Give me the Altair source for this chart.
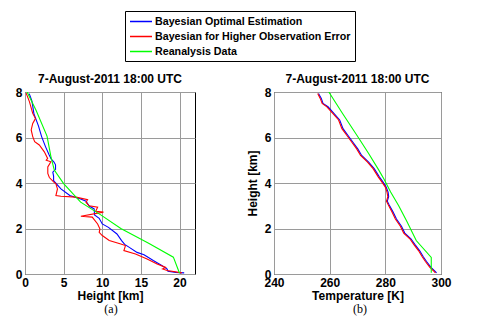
import altair as alt
import pandas as pd

series_names = ["Bayesian Optimal Estimation", "Bayesian for Higher Observation Error", "Reanalysis Data"]
series_colors = ["#0000ff", "#ff0000", "#00ff00"]
title_text = "7-August-2011 18:00 UTC"

# ---- panel (a) ----
a_blue_h = [7.93, 7.6, 7.05, 6.5, 6.04, 5.6, 5.25, 5.05, 4.92, 4.8, 4.6, 4.48, 4.3, 4.1, 3.74, 3.45, 3.3, 3.2,
            2.99, 2.86, 2.6, 2.45, 2.2, 2.05, 1.76, 1.47, 1.3, 1.17, 0.95, 0.85, 0.59, 0.37, 0.22, 0.12, 0.07, 0.05]
a_blue_v = [0.55, 0.9, 1.15, 1.75, 2.15, 2.65, 3.1, 3.4, 3.75, 3.95, 3.95, 3.6, 3.7, 3.7, 4.65, 5.8, 7.2, 7.9,
            8.3, 8.95, 9.0, 9.6, 10.0, 10.8, 11.9, 12.5, 12.9, 13.5, 14.5, 15.4, 16.6, 17.7, 18.4, 18.5, 19.5, 20.6]
a_red_h = [7.95, 7.58, 7.06, 6.83, 6.62, 6.33, 6.04, 5.82, 5.67, 5.37, 5.08, 5.0, 4.93, 4.71, 4.42, 4.24, 4.05,
           3.96, 3.74, 3.45, 3.42, 3.38, 3.27, 3.15, 3.0, 2.94, 2.76, 2.72, 2.54, 2.5, 2.2, 1.98, 1.83, 1.69,
           1.47, 1.32, 1.25, 1.03, 0.88, 0.66, 0.44, 0.29, 0.22, 0.15, 0.07, 0.05]
a_red_v = [0.15, 0.57, 1.0, 1.35, 1.0, 0.8, 1.0, 1.25, 1.85, 2.5, 2.93, 2.75, 3.35, 2.95, 2.95, 3.15, 3.7,
           4.0, 4.2, 4.0, 4.65, 6.6, 8.1, 7.9, 8.3, 9.4, 9.15, 10.15, 7.23, 8.7, 9.4, 9.7, 9.6, 10.0,
           10.9, 12.4, 13.0, 12.8, 14.3, 15.8, 17.1, 18.2, 17.8, 18.4, 19.9, 20.3]
a_green_h = [8.0, 7.2, 6.06, 5.15, 4.57, 3.97, 3.16, 2.6, 2.0, 1.35, 0.74, 0.03]
a_green_v = [0.27, 1.43, 2.85, 3.36, 3.79, 5.0, 7.2, 9.8, 12.4, 16.0, 19.2, 20.0]

# ---- panel (b) ----
b_blue_h = [7.93, 7.72, 7.5, 7.35, 7.05, 6.77, 6.39, 6.09, 5.8, 5.5, 5.21, 4.92, 4.63, 4.26, 4.04, 3.82, 3.6,
            3.4, 3.2, 3.05, 2.72, 2.42, 2.1, 1.8, 1.55, 1.3, 1.03, 0.75, 0.55, 0.29, 0.12, 0.05]
b_blue_t = [256.0, 257.0, 257.6, 259.4, 261.6, 263.6, 264.8, 266.6, 268.3, 270.1, 271.5, 274.0, 276.0, 277.9,
            279.2, 280.3, 281.0, 281.2, 280.7, 281.3, 282.8, 284.0, 285.8, 287.0, 289.2, 290.6, 292.3, 293.7,
            294.8, 296.4, 297.9, 298.4]
b_red_h = [7.93, 7.72, 7.5, 7.35, 7.05, 6.77, 6.39, 6.09, 5.8, 5.5, 5.21, 4.92, 4.63, 4.26, 4.04, 3.82, 3.6,
           3.4, 3.2, 3.05, 2.72, 2.42, 2.1, 1.8, 1.55, 1.3, 1.03, 0.75, 0.55, 0.29, 0.12, 0.05]
b_red_t = [255.7, 256.6, 257.3, 259.0, 261.2, 263.2, 264.4, 266.2, 267.9, 269.7, 271.1, 273.6, 275.6, 277.5,
           278.8, 280.0, 280.6, 280.9, 280.4, 281.0, 282.4, 283.6, 285.4, 286.6, 288.8, 290.2, 291.9, 293.3,
           294.4, 296.0, 297.5, 298.0]
b_green_h = [8.0, 7.1, 6.0, 5.3, 4.6, 4.18, 3.6, 3.0, 2.3, 1.47, 0.73, 0.05]
b_green_t = [259.7, 264.4, 270.3, 274.0, 277.5, 279.5, 281.9, 284.8, 287.8, 291.1, 296.5, 296.5]


def frame(groups):
    rows = []
    for name, hs, vs in groups:
        for i, (h, v) in enumerate(zip(hs, vs)):
            rows.append({"series": name, "h": h, "v": v, "i": i})
    return pd.DataFrame(rows)


df_a = frame([(series_names[0], a_blue_h, a_blue_v),
              (series_names[1], a_red_h, a_red_v),
              (series_names[2], a_green_h, a_green_v)])
df_b = frame([(series_names[0], b_blue_h, b_blue_t),
              (series_names[1], b_red_h, b_red_t),
              (series_names[2], b_green_h, b_green_t)])

color = alt.Color(
    "series:N",
    scale=alt.Scale(domain=series_names, range=series_colors),
    sort=series_names,
    legend=alt.Legend(title=None),
)

y_common = dict(scale=alt.Scale(domain=[0, 8], nice=False))


def caption(label, x):
    return alt.Chart(pd.DataFrame({"t": [label]})).mark_text(
        font="Liberation Serif", fontSize=12, color="black"
    ).encode(text="t:N", x=alt.value(x), y=alt.value(217))


lines_a = alt.Chart(df_a).mark_line(strokeWidth=1.1, clip=True).encode(
    x=alt.X("v:Q", scale=alt.Scale(domain=[0, 22], nice=False),
            axis=alt.Axis(values=[0, 5, 10, 15, 20], title="Height [km]")),
    y=alt.Y("h:Q", axis=alt.Axis(values=[0, 2, 4, 6, 8], title=None), **y_common),
    color=color,
    order="i:Q",
)
panel_a = alt.layer(lines_a, caption("(a)", 86)).properties(
    width=170, height=182, title=title_text
)

lines_b = alt.Chart(df_b).mark_line(strokeWidth=1.1, clip=True).encode(
    x=alt.X("v:Q", scale=alt.Scale(domain=[240, 300], nice=False),
            axis=alt.Axis(values=[240, 260, 280, 300], title="Temperature [K]")),
    y=alt.Y("h:Q", axis=alt.Axis(values=[0, 2, 4, 6, 8], title="Height [km]", titlePadding=5), **y_common),
    color=color,
    order="i:Q",
)
panel_b = alt.layer(lines_b, caption("(b)", 86)).properties(
    width=167, height=182, title=title_text
)

chart = alt.hconcat(panel_a, panel_b, spacing=79, bounds="flush").properties(
    padding={"left": 6, "top": 2, "right": 5, "bottom": 5}
).configure_view(
    stroke="black", strokeWidth=1
).configure_axis(
    domain=False, ticks=False, grid=True, gridColor="#9a9a9a", gridWidth=1,
    labelFont="Liberation Sans", labelFontSize=12, labelFontWeight="bold", labelColor="black",
    labelPadding=3, labelFlush=False, labelOverlap=False,
    titleFont="Liberation Sans", titleFontSize=12, titleFontWeight="bold", titleColor="black",
    titlePadding=2,
).configure_title(
    font="Liberation Sans", fontSize=12, fontWeight="bold", color="black", offset=0.01, anchor="middle"
).configure_legend(
    orient="none", legendX=100, legendY=-81, strokeColor="black", fillColor="white",
    padding=4, symbolType="M-1,0H3", symbolSize=121, symbolStrokeWidth=1.5,
    labelFont="Liberation Sans", labelFontSize=10.7, labelFontWeight="bold", labelColor="black",
    labelLimit=400, rowPadding=3, labelOffset=13, cornerRadius=0,
)

chart.save("out.html", embed_options={"renderer": "svg", "actions": False})
